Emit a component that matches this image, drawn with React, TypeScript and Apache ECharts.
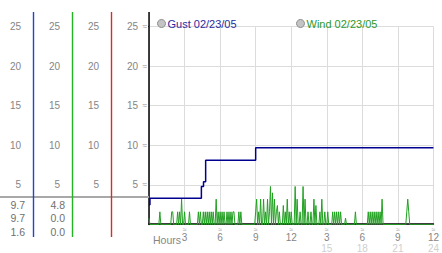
import React, { useEffect, useRef } from "react";
import * as echarts from "echarts";

// ---- data ----
const yTicks = [5, 10, 15, 20, 25];
const xTopLabels = ["3", "6", "9", "12", "3", "6", "9", "12"];
const xBottomLabels = ["", "", "", "", "15", "18", "21", "24"];

const gustName = "Gust 02/23/05";
const windName = "Wind 02/23/05";

// gust: step line (hours, mph)
const gustHours = [0, 0.08, 4.42, 4.6, 4.78, 9.0, 24];
const gustValues = [2.5, 3.3, 4.8, 5.4, 8.1, 9.7, 9.7];

// wind: 5-minute samples over 24 hours
const windStepMinutes = 5;
const windValues = [
  0.8, 0, 0, 0, 0, 0, 0, 0, 0, 0, 0, 1.6,
  0, 0, 0, 0, 0, 0, 0, 0, 0, 0, 0, 1.6,
  1.6, 0, 0, 0, 0, 1.6, 0, 1.6, 0, 3.2, 0, 0,
  1.6, 0, 0, 0, 0, 1.6, 0, 0, 0, 0, 0, 0,
  0, 0, 1.6, 0, 1.6, 0, 0, 1.6, 0, 1.6, 0, 1.6,
  0, 1.6, 0, 1.6, 0, 1.6, 0, 0, 3.2, 0, 1.6, 0,
  1.6, 0, 1.6, 0, 1.6, 0, 0, 1.6, 0, 1.6, 0, 1.6,
  0, 1.6, 1.6, 0, 0, 0, 0, 1.6, 0, 1.6, 0, 0,
  0, 0, 0, 0, 0, 0, 0, 0, 0, 0, 0, 0,
  1.6, 3.2, 0, 1.6, 0, 3.2, 0, 0, 3.2, 0, 1.6, 0,
  3.2, 0, 1.6, 4.8, 0, 4.0, 0, 3.2, 0, 1.6, 2.4, 0,
  1.6, 0, 0, 0, 2.4, 0, 1.6, 0, 3.2, 0, 1.6, 0,
  1.6, 0, 0, 0, 4.8, 0, 3.2, 0, 0, 1.6, 0, 0,
  4.8, 0, 3.2, 0, 0, 1.6, 0, 0, 1.6, 0, 0, 3.2,
  0, 2.4, 0, 0, 0, 1.6, 0, 3.2, 0, 0, 1.6, 0,
  0, 1.6, 0, 0, 0, 0, 1.6, 0, 1.6, 0, 1.6, 0,
  1.6, 0, 1.6, 0, 0, 0, 0, 0.8, 0, 0, 0, 0,
  0, 0, 0, 0, 0, 1.6, 0, 0, 0, 0, 0, 0,
  0, 0, 0, 0, 0, 0, 1.6, 0, 1.6, 0, 1.6, 0,
  1.6, 0, 1.6, 0, 1.6, 0, 1.6, 0, 3.2, 0, 0, 0,
  0, 0, 0, 0, 0, 0, 0, 0, 0, 0, 0, 0,
  0, 0, 0, 0, 0, 0, 0, 0, 0, 1.6, 3.2, 1.6,
  0, 0, 0, 0, 0, 0, 0, 0, 0, 0, 0, 0,
  0, 0, 0, 0, 0, 0, 0, 0, 0, 0, 0, 0,
  0,
];

// current / max / min readouts
const gustStats = ["9.7", "9.7", "1.6"];
const windStats = ["4.8", "0.0", "0.0"];

const FONT = "Liberation Sans";
const LABEL_GRAY = "#858585";

export default function App() {
  const ref = useRef<HTMLDivElement>(null);

  useEffect(() => {
    if (!ref.current) return;
    const chart = echarts.init(ref.current, undefined, { renderer: "svg" });

    const gustData = gustHours.map((h, i) => [h, gustValues[i]]);
    const windData = windValues.map((v, i) => [(i * windStepMinutes) / 60, v]);

    const sideAxis = (offset: number) => ({
      type: "value",
      position: "left",
      offset,
      min: 0,
      max: 25,
      interval: 5,
      axisLine: { show: false },
      axisTick: { show: false },
      splitLine: { show: false },
      axisLabel: {
        showMinLabel: false,
        margin: 12,
        color: LABEL_GRAY,
        fontFamily: FONT,
        fontSize: 10,
        formatter: (v: number) => (yTicks.includes(v) ? String(v) : ""),
      },
    });

    const statTexts: any[] = [];
    const rowY = [205, 218, 232];
    const pushStats = (arr: string[], x: number) =>
      arr.forEach((s, i) =>
        statTexts.push({
          type: "text",
          x,
          y: rowY[i],
          style: {
            text: s,
            fill: "#707070",
            font: `10.5px "${FONT}"`,
            textAlign: "right",
            textVerticalAlign: "middle",
          },
        })
      );
    pushStats(gustStats, 25);
    pushStats(windStats, 65);

    const legendItem = (name: string, left: number, color: string) => ({
      left,
      top: 13,
      icon: "circle",
      itemWidth: 8,
      itemHeight: 8,
      itemGap: 1,
      data: [
        {
          name,
          itemStyle: { color: "#c4c4c4", borderColor: "#8a8a8a", borderWidth: 1 },
          textStyle: { color },
        },
      ],
      textStyle: { fontFamily: FONT, fontSize: 11, padding: [0, 0, 0, -3] },
    });

    const vbar = (x: number, color: string) => ({
      type: "rect",
      shape: { x, y: 12, width: 1.4, height: 225 },
      style: { fill: color },
      z: 10,
    });

    chart.setOption({
      animation: false,
      backgroundColor: "#ffffff",
      grid: { left: 149, top: 26.5, width: 289, height: 200 },
      legend: [
        legendItem(gustName, 152, "#2a2aa0"),
        legendItem(windName, 291, "#2c9a2c"),
      ],
      xAxis: [
        {
          type: "value",
          min: 0,
          max: 24,
          interval: 3,
          offset: -1,
          axisLine: { show: true, lineStyle: { color: "#000", width: 1.5 } },
          axisTick: { show: false },
          splitLine: { show: true, lineStyle: { color: "#dcdcdc", width: 1 } },
          axisLabel: {
            margin: 2,
            showMinLabel: false,
            formatter: (v: number) => {
              const idx = v / 3 - 1;
              if (idx < 0) return "";
              return `{t|≈}\n{a|${xTopLabels[idx]}}`;
            },
            rich: {
              t: { fontSize: 7, color: "#9a9a9a", fontFamily: FONT, lineHeight: 7 },
              a: { fontSize: 10, color: LABEL_GRAY, fontFamily: FONT, lineHeight: 10 },
            },
          },
        },
        {
          type: "value",
          position: "bottom",
          min: 0,
          max: 24,
          interval: 3,
          offset: -1,
          axisLine: { show: false },
          axisTick: { show: false },
          splitLine: { show: false },
          axisLabel: {
            margin: 20,
            showMinLabel: false,
            fontSize: 10,
            lineHeight: 9,
            color: "#cfcfcf",
            fontFamily: FONT,
            formatter: (v: number) => {
              const idx = v / 3 - 1;
              if (idx < 0) return "";
              return xBottomLabels[idx];
            },
          },
        },
      ],
      yAxis: [
        {
          type: "value",
          min: 0,
          max: 25,
          interval: 5,
          axisLine: { show: true, lineStyle: { color: "#000", width: 1.5 } },
          axisTick: { show: false },
          splitLine: { show: true, lineStyle: { color: "#dcdcdc", width: 1 } },
          axisLabel: {
            showMinLabel: false,
            margin: 2,
            formatter: (v: number) => (yTicks.includes(v) ? `{a|${v}}{t|  ≈}` : ""),
            rich: {
              a: { fontSize: 10, color: LABEL_GRAY, fontFamily: FONT },
              t: { fontSize: 8, color: "#9a9a9a", fontFamily: FONT },
            },
          },
        },
        sideAxis(116),
        sideAxis(77),
        sideAxis(38),
      ],
      series: [
        {
          name: windName,
          type: "line",
          data: windData,
          showSymbol: false,
          symbol: "none",
          lineStyle: { color: "#22a022", width: 1 },
          itemStyle: { color: "#22a022" },
          z: 2,
        },
        {
          name: gustName,
          type: "line",
          step: "end",
          data: gustData,
          showSymbol: false,
          symbol: "none",
          lineStyle: { color: "#00008f", width: 1.5 },
          itemStyle: { color: "#00008f" },
          z: 3,
        },
      ],
      graphic: [
        { type: "rect", shape: { x: 0, y: 196, width: 149, height: 2 }, style: { fill: "#a8a8a8" }, z: 5 },
        vbar(32.8, "#1f44d8"),
        vbar(71.8, "#22b422"),
        vbar(110.8, "#dc2a2a"),
        { type: "rect", shape: { x: 148.3, y: 12, width: 1.5, height: 15 }, style: { fill: "#000" } },
        {
          type: "text",
          x: 153,
          y: 240,
          style: {
            text: "Hours",
            fill: LABEL_GRAY,
            font: `10.5px "${FONT}"`,
            textAlign: "left",
            textVerticalAlign: "middle",
          },
        },
        ...statTexts,
      ],
    });

    return () => chart.dispose();
  }, []);

  return (
    <div
      ref={ref}
      style={{ position: "fixed", left: 0, top: 0, width: 442, height: 253, background: "#fff" }}
    />
  );
}
